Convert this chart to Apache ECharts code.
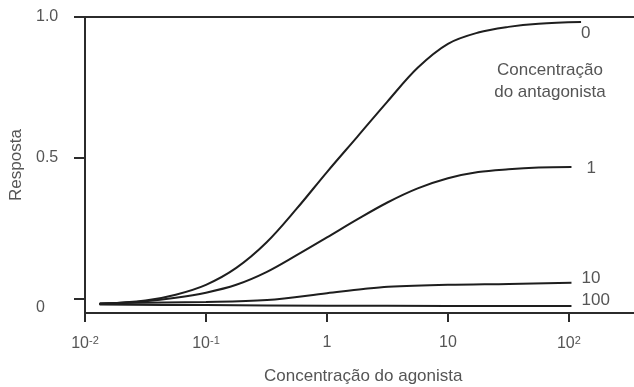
<!DOCTYPE html>
<html>
<head>
<meta charset="utf-8">
<script src="https://cdn.jsdelivr.net/npm/echarts@6/dist/echarts.min.js"></script>
<style>
html,body{margin:0;padding:0;background:#fff;}
#chart{width:634px;height:387px;}
</style>
</head>
<body>
<div id="chart"></div>
<script>
// Antagonist concentrations (series names)
const seriesNames = ['0', '1', '10', '100'];

// Agonist concentration (x) and response (y) per curve
const x0 = [0.0132, 0.0316, 0.0562, 0.1, 0.178, 0.316, 0.562, 1, 1.78, 3.16, 5.62, 10, 17.8, 31.6, 56.2, 126];
const y0 = [-0.018, -0.006, 0.015, 0.05, 0.11, 0.20, 0.32, 0.45, 0.575, 0.70, 0.82, 0.905, 0.945, 0.965, 0.976, 0.982];

const x1 = [0.0131, 0.0316, 0.0562, 0.1, 0.178, 0.316, 0.562, 1, 1.78, 3.16, 5.62, 10, 17.8, 31.6, 56.2, 105];
const y1 = [-0.018, -0.008, 0.004, 0.022, 0.05, 0.095, 0.155, 0.218, 0.282, 0.342, 0.392, 0.428, 0.45, 0.46, 0.466, 0.468];

const x10 = [0.0132, 0.1, 0.32, 1, 2, 3.2, 10, 32, 105];
const y10 = [-0.015, -0.011, -0.004, 0.02, 0.035, 0.043, 0.05, 0.053, 0.057];

const x100 = [0.0132, 0.1, 1, 10, 105];
const y100 = [-0.02, -0.022, -0.024, -0.025, -0.025];

// Tick labels
const xTickExps = [-2, -1, 0, 1, 2];
const xTickLabels = ['10{s|-2}', '10{s|-1}', '1', '10', '10{s|2}'];
const yTickValues = [0, 0.5, 1];
const yTickLabels = ['{z|0}', '0.5', '1.0'];

const xTitle = 'Concentração do agonista';
const yTitle = 'Resposta';
const annotation = 'Concentração\ndo antagonista';

function pairs(xs, ys) { return xs.map((x, i) => [x, ys[i]]); }
const allX = [x0, x1, x10, x100];
const allY = [y0, y1, y10, y100];
const endOffsets = [[0, 11], [15, 1], [10, -5], [10, -6]];

const FONT = 'Liberation Sans, Arial, sans-serif';
const TXT = '#555';
const LINE = '#2b2b2b';

const chart = echarts.init(document.getElementById('chart'), null, {renderer: 'canvas'});
chart.setOption({
  animation: false,
  backgroundColor: '#fff',
  grid: {left: 85, right: -7.5, top: 17, bottom: 74, containLabel: false, outerBoundsMode: 'none'},
  xAxis: [{
    type: 'log',
    logBase: 10,
    min: 0.01,
    max: Math.pow(10, 2.6),
    position: 'bottom',
    name: xTitle,
    nameLocation: 'middle',
    nameGap: 55,
    nameTextStyle: {color: TXT, fontSize: 17, fontFamily: FONT},
    axisLine: {show: true, onZero: false, lineStyle: {color: LINE, width: 2}},
    axisTick: {show: true, length: 9, lineStyle: {color: LINE, width: 2}},
    axisLabel: {
      color: TXT, fontSize: 16, fontFamily: FONT, margin: 22,
      formatter: function (v) {
        const e = Math.round(Math.log10(v));
        const i = xTickExps.indexOf(e);
        return i >= 0 ? xTickLabels[i] : '';
      },
      rich: {s: {fontSize: 11, color: TXT, fontFamily: FONT, padding: [0, 0, 7, 0]}}
    },
    splitLine: {show: false},
    minorTick: {show: false}
  }, {
    type: 'value',
    position: 'top',
    min: 0, max: 1,
    axisLine: {show: true, onZero: false, lineStyle: {color: LINE, width: 2}},
    axisTick: {show: false},
    axisLabel: {show: false},
    splitLine: {show: false}
  }],
  yAxis: {
    type: 'value',
    min: -0.05,
    max: 1.0,
    name: yTitle,
    nameLocation: 'middle',
    nameGap: 59,
    nameRotate: 90,
    nameTextStyle: {color: TXT, fontSize: 17, fontFamily: FONT},
    axisLine: {show: true, onZero: false, lineStyle: {color: LINE, width: 2}},
    axisTick: {show: true, length: 11, customValues: yTickValues, lineStyle: {color: LINE, width: 2}},
    axisLabel: {
      color: TXT, fontSize: 16, fontFamily: FONT, margin: 49, align: 'left',
      customValues: yTickValues,
      formatter: function (v) {
        const i = yTickValues.findIndex(t => Math.abs(t - v) < 1e-9);
        return i >= 0 ? yTickLabels[i] : '';
      },
      rich: {z: {fontSize: 16, color: TXT, fontFamily: FONT, padding: [18, 0, 0, 0]}}
    },
    splitLine: {show: false}
  },
  graphic: [{
    type: 'text',
    x: 550,
    y: 59,
    style: {
      text: annotation,
      fill: TXT,
      font: '17px ' + FONT,
      lineHeight: 22,
      align: 'center',
      verticalAlign: 'top'
    }
  }],
  series: seriesNames.map((name, k) => ({
    name: name,
    type: 'line',
    xAxisIndex: 0,
    data: pairs(allX[k], allY[k]),
    smooth: 0.35,
    symbol: 'none',
    clip: false,
    lineStyle: {color: '#1e1e1e', width: 2},
    endLabel: {
      show: true,
      formatter: '{a}',
      color: TXT,
      fontSize: 17,
      fontFamily: FONT,
      distance: 0,
      offset: endOffsets[k]
    }
  }))
});
</script>
</body>
</html>
